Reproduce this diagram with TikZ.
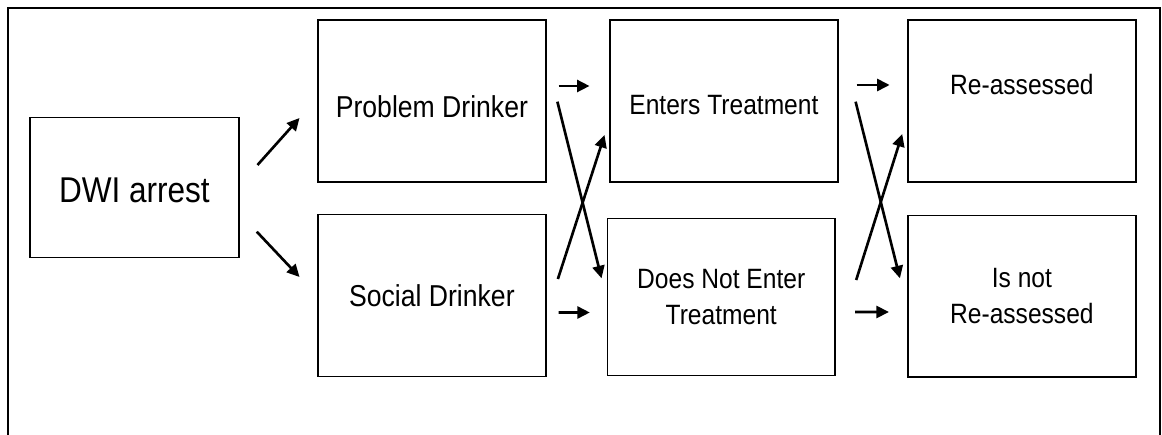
\documentclass[tikz,border=0pt]{standalone}
\usepackage{fontspec}
\setmainfont{Liberation Sans}[FakeStretch=0.88]
\usetikzlibrary{arrows.meta,calc}
\tikzset{outcome box/.style={draw=black, line width=0.8pt, minimum width=4.56cm, minimum height=3.24cm,
		inner sep=0pt, align=center, font=\fontsize{15.9}{20.5}\selectfont}}
\tikzset{drinker font/.style={font=\fontsize{17.2}{21}\selectfont}}
\tikzset{step arrow/.style={line width=1.5pt, -{Triangle[length=0.25cm,width=0.24cm]}}}

\begin{document}
\begin{tikzpicture}[x=0.02cm, y=-0.02cm]
	\useasboundingbox (0,0) rectangle (1162,435);
	% outer frame, open at the bottom
	\draw[line width=1.1pt] (8,445) -- (8,8.3) -- (1160,8.3) -- (1160,445);
	\node[outcome box, minimum width=4.18cm, minimum height=2.81cm, text height=0.59cm, text depth=0pt,
		font=\fontsize{20.4}{24}\selectfont] at (134.4,187.5) (dwi) {DWI arrest};
	\node[outcome box, drinker font, text height=0.65cm, text depth=0pt] at (431.9,101) (problem) {Problem Drinker};
	\node[outcome box, drinker font] at (431.9,295.7) (social)  {Social Drinker};
	\node[outcome box, text height=0.56cm, text depth=0pt] at (723.9,101)   (enters)  {Enters Treatment};
	\node[outcome box, minimum height=3.15cm] at (721.2,297) (noenter) {Does Not Enter\\Treatment};
	\node[outcome box, text height=0.4cm, text depth=0.67cm] at (1021.9,101) (reass) {Re-assessed};
	\node[outcome box] at (1021.9,296.2) (noreass) {Is not\\Re-assessed};
	\draw[step arrow] ($(dwi.east)+(17.9,-22.5)$) -- ($(problem.west)+(-17.7,17)$);
	\draw[step arrow] ($(dwi.east)+(17.2,44.2)$) -- ($(social.west)+(-17.7,-18.7)$);
	\draw[step arrow] ($(problem.east)+(12,-15)$) -- ($(enters.west)+(-19.7,-15)$);
	\draw[step arrow] ($(social.east)+(12,16.8)$) -- ($(noenter.west)+(-16.7,15.5)$);
	\draw[step arrow] ($(problem.east)+(10.8,0.7)$) -- ($(noenter.west)+(-5,-18.7)$);
	\draw[step arrow] ($(social.east)+(11.3,-16.7)$) -- ($(enters.west)+(-4.7,34)$);
	\draw[step arrow] ($(enters.east)+(18,-16)$) -- ($(reass.west)+(-17.6,-16)$);
	\draw[step arrow] ($(noenter.east)+(19.3,15)$) -- ($(noreass.west)+(-18.3,15.8)$);
	\draw[step arrow] ($(enters.east)+(17,0.7)$) -- ($(noreass.west)+(-7.3,-17.9)$);
	\draw[step arrow] ($(noenter.east)+(20.3,-17)$) -- ($(reass.west)+(-5,33)$);
\end{tikzpicture}
\end{document}
